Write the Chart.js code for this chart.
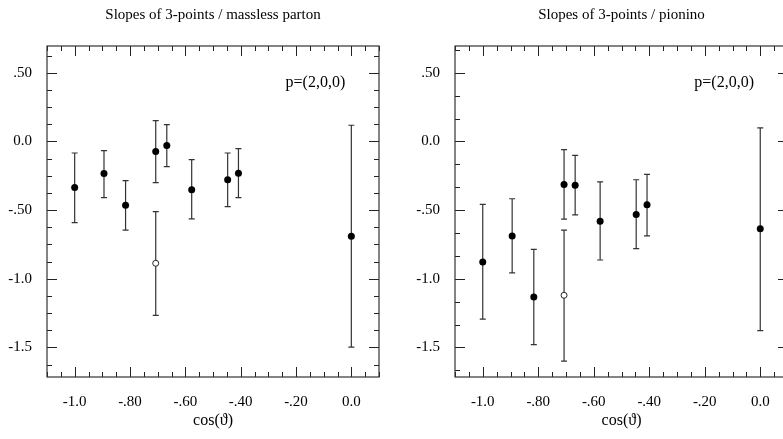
<!DOCTYPE html>
<html>
<head>
<meta charset="utf-8">
<script src="https://cdn.jsdelivr.net/npm/chart.js@4.4.1/dist/chart.umd.min.js"></script>
<style>
  html, body { margin: 0; padding: 0; overflow: hidden; background: #fff; }
  body { width: 783px; height: 439px; position: relative; }
  canvas { position: absolute; top: 0; }
</style>
</head>
<body>
<canvas id="leftChart" width="400" height="439" style="left:0"></canvas>
<canvas id="rightChart" width="400" height="439" style="left:400px"></canvas>
<script>
// tick positions and labels (both panels)
const xTicks = [-1.0, -0.8, -0.6, -0.4, -0.2, 0.0];
const xTickLabels = ["-1.0", "-.80", "-.60", "-.40", "-.20", "0.0"];
const yTicks = [0.5, 0.0, -0.5, -1.0, -1.5];
const yTickLabels = [".50", "0.0", "-.50", "-1.0", "-1.5"];

// cos(theta) of the momentum directions
const cosTheta = [-1.0, -0.894, -0.816, -0.707, -0.667, -0.577, -0.447, -0.408, 0.0];

// left panel: massless parton
const partonY  = [-0.336, -0.234, -0.465, -0.074, -0.030, -0.351, -0.278, -0.232, -0.690];
const partonHi = [-0.084, -0.067, -0.285,  0.152,  0.122, -0.133, -0.084, -0.052,  0.118];
const partonLo = [-0.591, -0.409, -0.645, -0.300, -0.183, -0.564, -0.475, -0.409, -1.497];
const partonOpenX = [-0.707];
const partonOpenY = [-0.887];
const partonOpenHi = [-0.511];
const partonOpenLo = [-1.266];

// right panel: pionino
const pioninoY  = [-0.877, -0.689, -1.133, -0.313, -0.318, -0.581, -0.532, -0.460, -0.636];
const pioninoHi = [-0.458, -0.417, -0.786, -0.060, -0.101, -0.294, -0.279, -0.239,  0.099];
const pioninoLo = [-1.293, -0.957, -1.480, -0.566, -0.535, -0.863, -0.781, -0.688, -1.377];
const pioninoOpenX = [-0.707];
const pioninoOpenY = [-1.120];
const pioninoOpenHi = [-0.646];
const pioninoOpenLo = [-1.600];

const SERIF = "'Liberation Serif', 'DejaVu Serif', serif";
const INK = "#222";

const frame = {
  id: "frame",
  beforeDatasetsDraw(chart) {
    const ctx = chart.ctx, xs = chart.scales.x, ys = chart.scales.y;
    ctx.save();
    ctx.strokeStyle = "#333";
    ctx.lineWidth = 1.2;
    chart.data.datasets.forEach(ds => {
      ds.data.forEach(p => {
        const x = xs.getPixelForValue(p.x);
        const top = ys.getPixelForValue(p.hi);
        const bot = ys.getPixelForValue(p.lo);
        ctx.beginPath();
        ctx.moveTo(x, top); ctx.lineTo(x, bot);
        ctx.moveTo(x - 3, top); ctx.lineTo(x + 3, top);
        ctx.moveTo(x - 3, bot); ctx.lineTo(x + 3, bot);
        ctx.stroke();
      });
    });
    ctx.restore();
  },
  afterDraw(chart) {
    const ctx = chart.ctx, a = chart.chartArea;
    const xs = chart.scales.x, ys = chart.scales.y;
    const o = chart.options.plugins.frame;
    ctx.save();
    ctx.strokeStyle = INK;
    ctx.lineWidth = 1;
    ctx.beginPath();
    const isMajor = (v, list) => list.some(t => Math.abs(t - v) < 1e-6);
    for (let v = Math.ceil(xs.min / o.xMinor) * o.xMinor; v <= xs.max + 1e-9; v += o.xMinor) {
      const px = Math.round(xs.getPixelForValue(v)) + 0.5;
      const len = isMajor(v, xTicks) ? 10 : 5;
      ctx.moveTo(px, a.bottom); ctx.lineTo(px, a.bottom - len);
      ctx.moveTo(px, a.top); ctx.lineTo(px, a.top + len);
    }
    for (let v = Math.ceil(ys.min / o.yMinor) * o.yMinor; v <= ys.max + 1e-9; v += o.yMinor) {
      const py = Math.round(ys.getPixelForValue(v)) + 0.5;
      const len = isMajor(v, yTicks) ? 10 : 5;
      ctx.moveTo(a.left, py); ctx.lineTo(a.left + len, py);
      ctx.moveTo(a.right, py); ctx.lineTo(a.right - len, py);
    }
    ctx.stroke();
    ctx.lineWidth = 1.2;
    ctx.strokeStyle = "#333";
    ctx.strokeRect(a.left, a.top, a.right - a.left, a.bottom - a.top);
    ctx.fillStyle = "#000";
    ctx.font = "16px " + SERIF;
    ctx.textAlign = "center";
    ctx.textBaseline = "middle";
    ctx.fillText(o.note, xs.getPixelForValue(-0.13), ys.getPixelForValue(0.43));
    ctx.restore();
  }
};

function points(xv, yv, hi, lo) {
  return xv.map((x, i) => ({ x: x, y: yv[i], hi: hi[i], lo: lo[i] }));
}

function makeChart(id, opt) {
  new Chart(document.getElementById(id), {
    type: "scatter",
    data: {
      datasets: [{
        data: points(cosTheta, opt.y, opt.hi, opt.lo),
        pointRadius: 3.5,
        pointBackgroundColor: "#000",
        pointBorderColor: "#000",
        pointBorderWidth: 0
      }, {
        data: points(opt.openX, opt.openY, opt.openHi, opt.openLo),
        pointRadius: 3,
        pointBackgroundColor: "#fff",
        pointBorderColor: "#222",
        pointBorderWidth: 1
      }]
    },
    options: {
      responsive: false,
      animation: false,
      layout: { padding: { left: 0, right: opt.padR, top: 0, bottom: 0 } },
      plugins: {
        legend: { display: false },
        tooltip: { enabled: false },
        title: {
          display: true,
          fullSize: false,
          text: opt.title,
          color: "#000",
          font: { family: SERIF, size: 15, weight: "normal" },
          padding: { top: 6.5, bottom: 21.5 }
        },
        frame: { note: "p=(2,0,0)", xMinor: 0.05, yMinor: opt.yMinor }
      },
      scales: {
        x: {
          type: "linear",
          min: -1.1, max: 0.1,
          grid: { display: false, drawTicks: false },
          border: { display: false },
          afterBuildTicks: s => { s.ticks = xTicks.map(v => ({ value: v })); },
          afterFit: s => { s.height = 62; },
          ticks: {
            autoSkip: false, maxRotation: 0, padding: 16, color: "#000",
            font: { family: SERIF, size: 15 },
            callback: v => xTickLabels[xTicks.findIndex(t => Math.abs(t - v) < 1e-6)]
          },
          title: {
            display: true, text: "cos(ϑ)", color: "#000",
            font: { family: SERIF, size: 16 },
            padding: { top: 0, bottom: 8.4 }
          }
        },
        y: {
          type: "linear",
          min: -1.715, max: 0.695,
          grid: { display: false, drawTicks: false },
          border: { display: false },
          afterBuildTicks: s => { s.ticks = yTicks.map(v => ({ value: v })); },
          afterFit: s => { s.width = opt.yWidth; },
          ticks: {
            autoSkip: false, padding: 15, color: "#000",
            font: { family: SERIF, size: 15 },
            callback: v => yTickLabels[yTicks.findIndex(t => Math.abs(t - v) < 1e-6)]
          }
        }
      }
    },
    plugins: [frame]
  });
}

makeChart("leftChart", {
  title: "Slopes of 3-points / massless parton",
  y: partonY, hi: partonHi, lo: partonLo,
  openX: partonOpenX, openY: partonOpenY, openHi: partonOpenHi, openLo: partonOpenLo,
  padR: 21, yWidth: 47, yMinor: 0.125
});

makeChart("rightChart", {
  title: "Slopes of 3-points / pionino",
  y: pioninoY, hi: pioninoHi, lo: pioninoLo,
  openX: pioninoOpenX, openY: pioninoOpenY, openHi: pioninoOpenHi, openLo: pioninoOpenLo,
  padR: 12, yWidth: 55, yMinor: 0.5 / 3
});
</script>
</body>
</html>
